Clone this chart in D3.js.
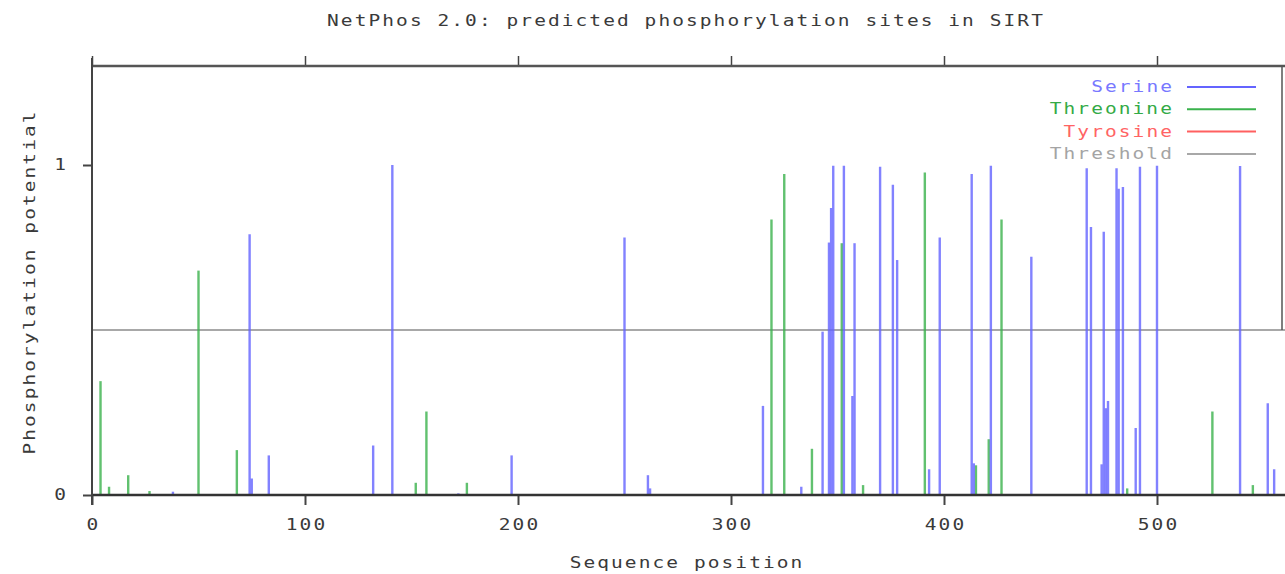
<!DOCTYPE html>
<html><head><meta charset="utf-8">
<script src="https://cdn.jsdelivr.net/npm/d3@7"></script>
<style>
html,body{margin:0;padding:0;background:#fff;}
text{font-family:"DejaVu Sans Mono",monospace;font-size:15px;letter-spacing:1.6px;fill:#3a3a3a;}
</style></head>
<body><svg id="chart" width="1285" height="574"></svg>
<script>
const title = "NetPhos 2.0: predicted phosphorylation sites in SIRT";
const xLabel = "Sequence position";
const yLabel = "Phosphorylation potential";
const xTicks = [0, 100, 200, 300, 400, 500];
const yTicks = [0, 1];
const threshold = 0.5;
const seqLength = 560;

const serinePos = [38,74,75,83,132,141,172,197,250,261,262,315,333,343,346,347,348,353,357,358,370,376,378,393,398,413,414,422,441,467,469,474,475,476,477,481,482,484,490,492,500,539,552,555];
const serineVal = [0.01,0.79,0.05,0.12,0.15,1.0,0.005,0.12,0.78,0.06,0.02,0.27,0.025,0.495,0.765,0.87,0.998,0.998,0.30,0.763,0.995,0.94,0.712,0.078,0.78,0.973,0.096,0.998,0.722,0.99,0.812,0.093,0.798,0.263,0.285,0.99,0.928,0.933,0.203,0.995,0.998,0.997,0.278,0.078];

const threoninePos = [4,8,17,27,50,68,152,157,176,319,325,338,352,362,391,415,421,427,486,526,545];
const threonineVal = [0.345,0.025,0.06,0.012,0.68,0.136,0.037,0.253,0.037,0.835,0.973,0.14,0.763,0.03,0.977,0.09,0.169,0.835,0.02,0.253,0.03];

const tyrosinePos = [];
const tyrosineVal = [];

const legendNames = ["Serine", "Threonine", "Tyrosine", "Threshold"];
const colors = {Serine:"#6464ff", Threonine:"#3ab24c", Tyrosine:"#ff6060", Threshold:"#a8a8a8"};
const textColors = {Serine:"#7878ff", Threonine:"#34aa46", Tyrosine:"#ff6464", Threshold:"#a4a4a4"};

const svg = d3.select("#chart");
const mLeft = 92, mRight = 1284.8, mTop = 66, mBottom = 495;
const x = d3.scaleLinear().domain([0, seqLength]).range([mLeft, mRight]);
const y = d3.scaleLinear().domain([0, 1.3]).range([mBottom, mTop]);
const SX = 1.3;

function label(str, tx, ty, anchor, rot) {
  return svg.append("text")
    .attr("transform", `translate(${tx},${ty})` + (rot ? ` rotate(${rot})` : "") + ` scale(${SX},1)`)
    .attr("text-anchor", anchor).text(str);
}

// title
label(title, 686, 26, "middle");

// threshold
svg.append("line").attr("x1", mLeft).attr("x2", 1285).attr("y1", y(threshold)).attr("y2", y(threshold))
  .attr("stroke", colors.Threshold).attr("stroke-width", 2);

// bars
function drawSeries(pos, val, color) {
  const data = pos.map((p, i) => ({p, v: val[i]}));
  svg.append("g").selectAll("line").data(data).join("line")
    .attr("x1", d => x(d.p)).attr("x2", d => x(d.p))
    .attr("y1", y(0)).attr("y2", d => y(d.v))
    .attr("stroke", color).attr("stroke-width", 2.4).attr("opacity", 0.8);
}
drawSeries(threoninePos, threonineVal, colors.Threonine);
drawSeries(serinePos, serineVal, colors.Serine);
drawSeries(tyrosinePos, tyrosineVal, colors.Tyrosine);

// axes
const xAxis = d3.axisBottom(x).tickValues(xTicks).tickSize(10).tickFormat(d3.format("d"));
const gx = svg.append("g").attr("transform", `translate(0,${mBottom})`).call(xAxis);
gx.select(".domain").remove();
gx.selectAll(".tick line").attr("stroke", "#444").attr("stroke-width", 2);
gx.selectAll(".tick text").attr("x", 0).attr("y", 0).attr("dy", null)
  .attr("transform", `translate(1,35) scale(${SX},1)`)
  .style("font-size", "15px").style("font-family", "DejaVu Sans Mono").attr("fill", "#3a3a3a");

const xTopAxis = d3.axisTop(x).tickValues(xTicks).tickSize(10).tickFormat("");
const gt = svg.append("g").attr("transform", `translate(0,${mTop})`).call(xTopAxis);
gt.select(".domain").remove();
gt.selectAll(".tick line").attr("stroke", "#444").attr("stroke-width", 1.5);

const yAxis = d3.axisLeft(y).tickValues(yTicks).tickSize(9).tickFormat(d3.format("d"));
const gy = svg.append("g").attr("transform", `translate(${mLeft},0)`).call(yAxis);
gy.select(".domain").remove();
gy.selectAll(".tick line").attr("stroke", "#444").attr("stroke-width", 2);
gy.selectAll(".tick text").attr("x", 0).attr("dy", "0.32em")
  .attr("transform", `translate(-24,0) scale(${SX},1)`)
  .style("font-size", "15px").style("font-family", "DejaVu Sans Mono").attr("fill", "#3a3a3a");

// frame lines
svg.append("line").attr("x1", mLeft).attr("x2", 1285).attr("y1", mBottom).attr("y2", mBottom).attr("stroke", "#333").attr("stroke-width", 2.5);
svg.append("line").attr("x1", mLeft).attr("x2", 1285).attr("y1", mTop).attr("y2", mTop).attr("stroke", "#555").attr("stroke-width", 2.5);
svg.append("line").attr("x1", mLeft).attr("x2", mLeft).attr("y1", mTop - 8).attr("y2", mBottom + 10).attr("stroke", "#444").attr("stroke-width", 2);
svg.append("line").attr("x1", 1282).attr("x2", 1282).attr("y1", mTop).attr("y2", y(threshold)).attr("stroke", "#555").attr("stroke-width", 1.5);

// axis labels
label(xLabel, 687, 568, "middle");
label(yLabel, 35, 282, "middle", -90);

// legend
legendNames.forEach((name, i) => {
  const ly = 87 + i * 22.3;
  label(name, 1174, ly + 5, "end").style("fill", textColors[name]);
  svg.append("line").attr("x1", 1187).attr("x2", 1256).attr("y1", ly).attr("y2", ly)
    .attr("stroke", colors[name]).attr("stroke-width", 2);
});
</script></body></html>
